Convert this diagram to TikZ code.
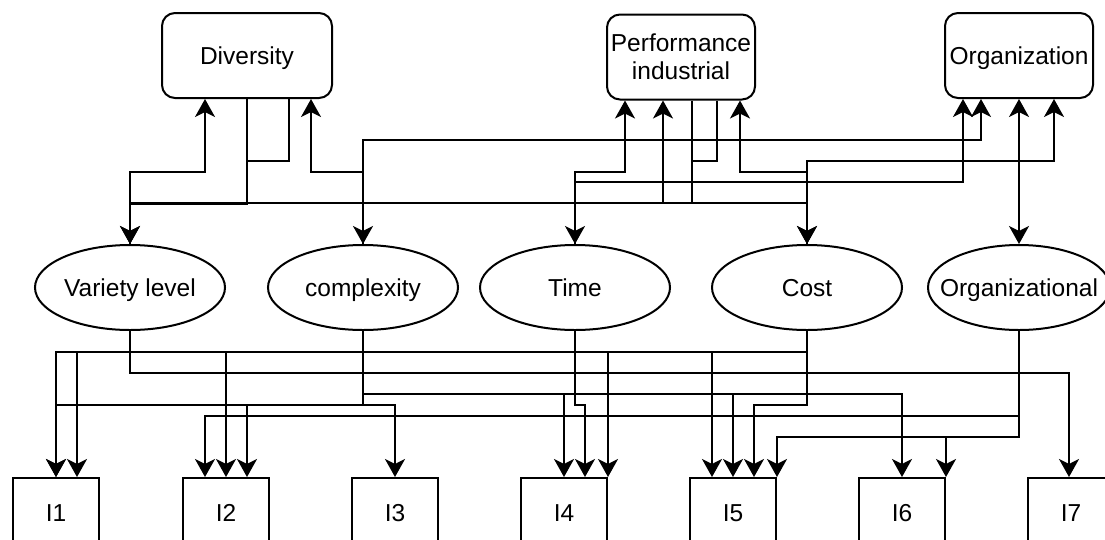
\documentclass[tikz,border=0pt]{standalone}
\usepackage{fontspec}
\setmainfont{Liberation Sans}
\usetikzlibrary{shapes.geometric,arrows.meta}
\begin{document}
\begin{tikzpicture}[x=1pt,y={(0pt,-1pt)},
  every node/.style={font=\fontsize{24.5}{28}\selectfont},
  topbox/.style={draw, line width=2pt, rounded corners=13pt, minimum height=85pt, inner sep=1pt, align=center, text height=22pt, text depth=4pt},
  ell/.style={draw, ellipse, line width=2pt, minimum width=190pt, minimum height=85pt, inner xsep=-30pt, inner ysep=0pt, text height=22pt, text depth=4pt},
  ibox/.style={draw, line width=2pt, minimum width=86pt, minimum height=68pt, text height=22pt, text depth=4pt},
  link/.style={line width=2pt, -{Stealth[length=18pt,width=20pt,inset=5pt]}},
  both/.style={link, {Stealth[length=18pt,width=20pt,inset=5pt]}-{Stealth[length=18pt,width=20pt,inset=5pt]}}]
\useasboundingbox (0,0) rectangle (1105,539);
\clip (0,0) rectangle (1105,539);
\node[topbox, minimum width=170pt] (div) at (247,55.5) {Diversity};
\node[topbox, minimum width=148pt, text height=, text depth=] (perf) at (681,57) {Performance\\industrial};
\node[topbox, minimum width=148pt] (orgn) at (1019,55.5) {Organization};
\node[ell] (var) at (130,287.5) {Variety level};
\node[ell] (cpx) at (363,287.5) {complexity};
\node[ell] (time) at (575,287.5) {Time};
\node[ell] (cost) at (807,287.5) {Cost};
\node[ell, minimum width=182pt] (orgl) at (1019,287.5) {Organizational};
\foreach \x [count=\i] in {56,226,395,564,733,902,1071}
  \node[ibox] (i\i) at (\x,512) {I\i};
\draw[link] (var.north) |- (205,172) -- ([xshift=-42pt]div.south);
\draw[link] (div.south) -- ++(0,105) -| (var.north);
\draw[link] ([xshift=42pt]div.south) |- (247,161) -- (247,203) -| (cost.north);
\draw[link] (cpx.north) |- (311,172) -- ([xshift=64pt]div.south);
\draw[both] (cpx.north) |- (981,140) -- ([xshift=-38pt]orgn.south);
\draw[both] (time.north) |- (625,172) -- ([xshift=-56pt]perf.south);
\draw[link] (time.north) |- (963,182) -- ([xshift=-56pt]orgn.south);
\draw[link] (var.north) |- (663,203) -- ([xshift=-18pt]perf.south);
\draw[link] ([xshift=11pt]perf.south) -- (692,203) -| (var.north);
\draw[link] ([xshift=36pt]perf.south) |- (692,161) -- (692,203) -| (cost.north);
\draw[link] (cost.north) |- (740,172) -- ([xshift=59pt]perf.south);
\draw[link] (cost.north) |- (1054,161) -- ([xshift=35pt]orgn.south);
\draw[both] (orgn.south) -- (orgl.north);
\draw[link] (cost.south) -- ++(0,21) -| (i1.north);
\draw[link] (cost.south) -- ++(0,21) -| ([xshift=21pt]i1.north);
\draw[link] (cost.south) -- ++(0,21) -| (i2.north);
\draw[link] (cost.south) -- ++(0,21) -| (i4.north east);
\draw[link] (cost.south) -- ++(0,21) -| ([xshift=-21pt]i5.north);
\draw[link] (cost.south) -- ++(0,74) -| ([xshift=21pt]i5.north);
\draw[link] (var.south) -- ++(0,42) -| ([xshift=-2pt]i7.north);
\draw[link] (cpx.south) -- ++(0,63) -| (i4.north);
\draw[link] (cpx.south) -- ++(0,63) -| (i5.north);
\draw[link] (cpx.south) -- ++(0,63) -| (i6.north);
\draw[link] (cpx.south) -- ++(0,74) -| (i1.north);
\draw[link] (cpx.south) -- ++(0,74) -| ([xshift=21pt]i2.north);
\draw[link] (cpx.south) -- ++(0,74) -| (i3.north);
\draw[link] (time.south) -- ++(0,74) -| ([xshift=21pt]i4.north);
\draw[link] (orgl.south) -- ++(0,85) -| ([xshift=-21pt]i2.north);
\draw[link] (orgl.south) -- ++(0,106) -| (i5.north east);
\draw[link] (orgl.south) -- ++(0,106) -| (i6.north east);
\end{tikzpicture}
\end{document}
